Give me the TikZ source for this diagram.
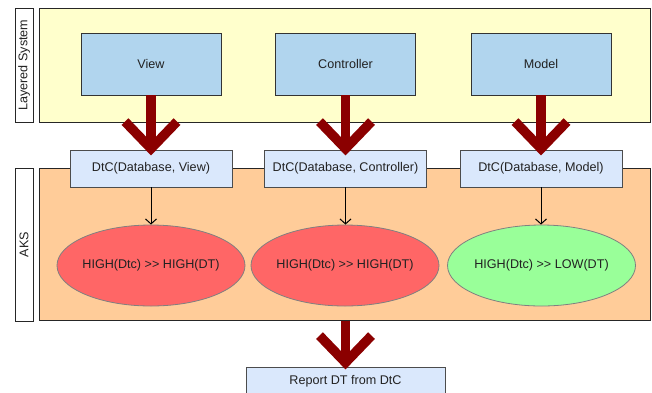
\documentclass[tikz,border=0pt]{standalone}
\usepackage{fontspec}
\setmainfont{Liberation Sans}
\usetikzlibrary{calc, arrows.meta, shapes.geometric}
\definecolor{layerfill}{HTML}{FFFFCC}
\definecolor{aksfill}{HTML}{FFCC99}
\definecolor{partfill}{HTML}{B1D5EE}
\definecolor{dtcfill}{HTML}{DAE8FC}
\definecolor{highfill}{HTML}{FF6666}
\definecolor{lowfill}{HTML}{99FF99}
\definecolor{flowred}{HTML}{8B0000}
\definecolor{inktext}{HTML}{222222}

\begin{document}
\begin{tikzpicture}[x=1pt, y=-1pt, font=\fontsize{12.6}{14}\selectfont, text=inktext]

        % 1. Page size and column positions (one unit = one pixel, y downwards)
        \useasboundingbox (0,0) rectangle (652,392);
        \clip (0,0) rectangle (652,392);
        \pgfmathsetmacro{\colA}{151}   % View column
        \pgfmathsetmacro{\colB}{345.5} % Controller column
        \pgfmathsetmacro{\colC}{541}   % Model column

        \tikzset{
            panel/.style={draw=black!85, line width=0.9pt, inner sep=0pt},
            sidelabel/.style={draw=black!85, fill=white, line width=0.9pt, rotate=90, minimum height=18pt, inner sep=0pt},
            part/.style={draw=black!80, fill=partfill, line width=0.8pt, minimum width=140pt, minimum height=62pt, inner sep=0pt},
            dtcbox/.style={draw=black!70, fill=dtcfill, line width=0.8pt, minimum width=162pt, minimum height=37pt, inner sep=0pt},
            level/.style={ellipse, draw=black!50, line width=0.8pt, minimum width=188pt, minimum height=81pt, inner xsep=-25pt, inner ysep=0pt},
            bigflow/.style={draw=flowred, line width=9.5pt, line join=miter},
            thinflow/.style={draw=black, line width=1pt, -{Straight Barb[length=5pt, width=11pt]}}
        }

        % 2. The two layers and their side labels
        \node[panel, fill=layerfill, minimum width=611pt, minimum height=114pt] (layered) at (344.5,65) {};
        \node[sidelabel, minimum width=114pt] (layeredlabel) at (24,65) {Layered System};
        \node[panel, fill=aksfill, minimum width=611pt, minimum height=152pt] (aks) at (344.5,244.5) {};
        \node[sidelabel, minimum width=153pt] (akslabel) at (24,244.5) {AKS};

        % 3. View, Controller and Model
        \node[part] (view) at (\colA,64) {View};
        \node[part] (controller) at (\colB,64) {Controller};
        \node[part] (model) at (\colC,64) {Model};

        % 4. DtC boxes on the border of AKS
        \node[dtcbox] (dtcview) at (\colA,168.5) {DtC(Database, View)};
        \node[dtcbox] (dtccontroller) at (\colB,168.5) {DtC(Database, Controller)};
        \node[dtcbox] (dtcmodel) at (\colC,168.5) {DtC(Database, Model)};

        % 5. Ratings inside AKS
        \node[level, fill=highfill] (highview) at (\colA,265.5) {HIGH(Dtc) >{}> HIGH(DT)};
        \node[level, fill=highfill] (highcontroller) at (345,265.5) {HIGH(Dtc) >{}> HIGH(DT)};
        \node[level, fill=lowfill] (lowmodel) at (541.5,265.5) {HIGH(Dtc) >{}> LOW(DT)};

        % Report box (runs off the bottom edge)
        \node[dtcbox, minimum width=199pt, minimum height=28pt] (report) at (345.5,381) {Report DT from DtC};

        % 6. Thin arrows from DtC to the ratings
        \draw[thinflow] (dtcview) -- (highview);
        \draw[thinflow] (dtccontroller) -- (highcontroller.north -| dtccontroller.south);
        \draw[thinflow] (dtcmodel) -- (lowmodel.north -| dtcmodel.south);

        % 7. Big red arrows (shaft plus open chevron)
        \draw[bigflow] (view.south) -- ($(dtcview.north)+(0,-1)$);
        \draw[bigflow] ($(dtcview.north)+(-26,-28)$) -- ($(dtcview.north)+(0,-1)$) -- ($(dtcview.north)+(26,-28)$);

        \draw[bigflow] (controller.south) -- ($(dtccontroller.north)+(0,-1)$);
        \draw[bigflow] ($(dtccontroller.north)+(-26,-28)$) -- ($(dtccontroller.north)+(0,-1)$) -- ($(dtccontroller.north)+(26,-28)$);

        \draw[bigflow] (model.south) -- ($(dtcmodel.north)+(0,-1)$);
        \draw[bigflow] ($(dtcmodel.north)+(-26,-28)$) -- ($(dtcmodel.north)+(0,-1)$) -- ($(dtcmodel.north)+(26,-28)$);

        \coordinate (aksout) at (report.north |- aks.south);
        \draw[bigflow] (aksout) -- ($(report.north)+(0,-4)$);
        \draw[bigflow] ($(report.north)+(-26,-31)$) -- ($(report.north)+(0,-4)$) -- ($(report.north)+(26,-31)$);

    \end{tikzpicture}
\end{document}
